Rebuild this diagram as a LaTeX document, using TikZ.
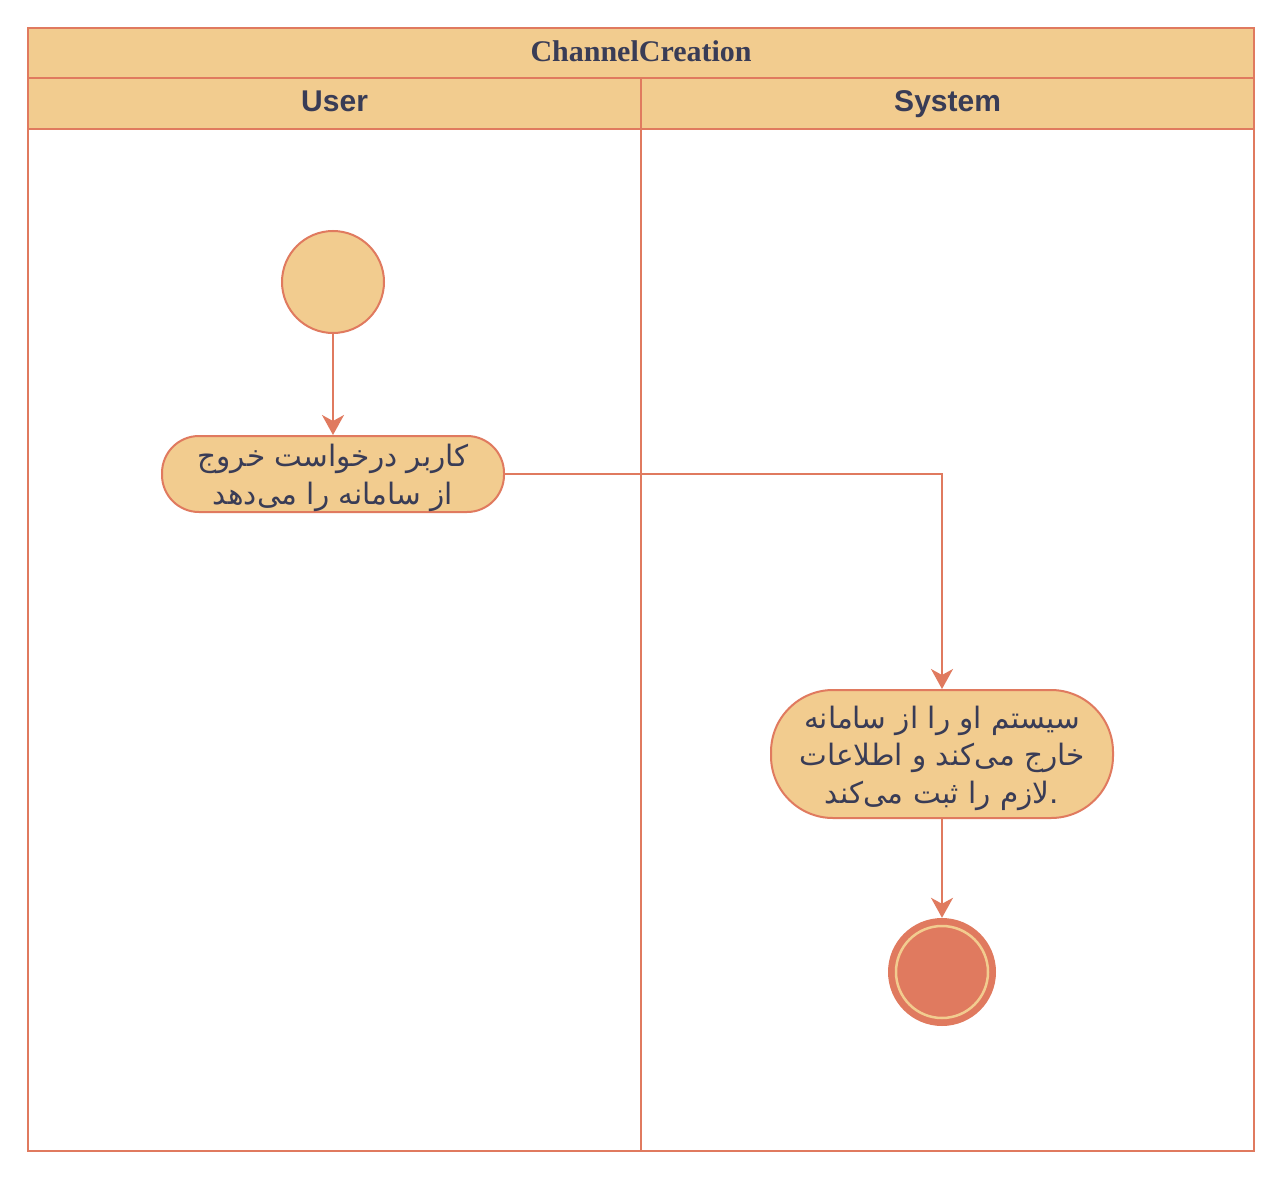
\documentclass[tikz,border=0pt]{standalone}
\usepackage{fontspec}
\setmainfont{Liberation Serif}
\newfontfamily\headsans{Liberation Sans}
\newfontfamily\fa[Script=Arabic]{DejaVu Sans}
\TeXXeTstate=1
\usetikzlibrary{arrows.meta}
\definecolor{fillc}{HTML}{F2CC8F}
\definecolor{linec}{HTML}{E07A5F}
\definecolor{txtc}{HTML}{393C56}
\tikzset{
  box/.style={draw=linec, fill=fillc, line width=2.2pt, inner sep=0pt, anchor=north west, text=txtc,
    text height=22pt, text depth=6pt},
  lane/.style={draw=linec, line width=2.2pt, inner sep=0pt, anchor=north west},
  actbox/.style={draw=linec, fill=fillc, line width=2pt, inner sep=0pt},
  acttext/.style={text=txtc, align=center, inner sep=0pt,
    font=\fa\fontsize{29.5}{37.5}\selectfont},
  flow/.style={draw=linec, line width=2pt, -{Stealth[length=20pt,width=22pt,inset=6pt]}},
}
\begin{document}
\begin{tikzpicture}[x=1pt,y=-1pt]
\useasboundingbox[fill=white] (0,0) rectangle (1280,1180);
% lanes
\node[lane, minimum width=613pt, minimum height=1073pt] (userlane) at (27,77) {};
\node[lane, minimum width=613pt, minimum height=1073pt] (syslane) at (640,77) {};
% headers
\node[box, minimum width=1226pt, minimum height=50pt, font=\bfseries\fontsize{30}{36}\selectfont] (title) at (27,27) {ChannelCreation};
\node[box, minimum width=613pt, minimum height=51pt, font=\headsans\bfseries\fontsize{30}{36}\selectfont] (userhead) at (27,77) {User};
\node[box, minimum width=613pt, minimum height=51pt, font=\headsans\bfseries\fontsize{30}{36}\selectfont] (syshead) at (640,77) {System};
% start
\node[circle, draw=linec, fill=fillc, line width=2pt, minimum size=102pt, inner sep=0pt] (start) at (333,282) {};
% actions
\node[actbox, minimum width=342pt, minimum height=76pt, rounded corners=37pt] (act1) at (333,474) {};
\node[acttext] (act1text) at (333,478)
  {\beginR کاربر درخواست خروج\endR\\\beginR از سامانه را می‌دهد\endR};
\node[actbox, minimum width=342pt, minimum height=128pt, rounded corners=62pt] (act2) at (942,754) {};
\node[acttext] (act2text) at (942,758)
  {\beginR سیستم او را از سامانه\endR\\\beginR خارج می‌کند و اطلاعات\endR\\\beginR لازم را ثبت می‌کند\endR.};
% end
\node[circle, fill=linec, minimum size=108pt, inner sep=0pt] (finish) at (942,972) {};
\node[circle, draw=fillc, line width=2.5pt, minimum size=92pt, inner sep=0pt] (finishring) at (finish) {};
% flows
\draw[flow] (start) -- (act1);
\draw[flow] (act1.east) -| (act2.north);
\draw[flow] (act2) -- (finish);
\end{tikzpicture}
\end{document}
